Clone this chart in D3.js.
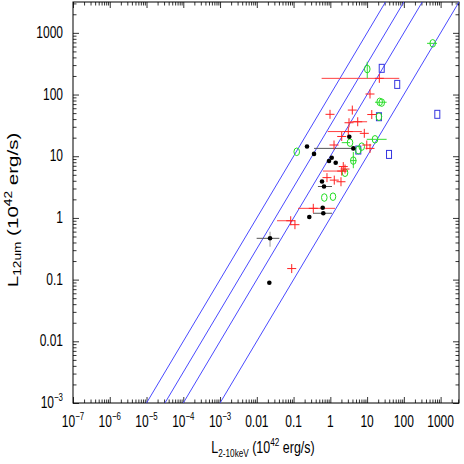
<!DOCTYPE html>
<html>
<head>
<meta charset="utf-8">
<script src="https://cdn.jsdelivr.net/npm/d3@7"></script>
<style>
  body { margin: 0; background: #fff; }
  text { font-family: "Liberation Sans", Arial, sans-serif; fill: #000; }
</style>
</head>
<body>
<div id="grafica"></div>
<script>
// Datos (unidades de 10^42 erg/s)
// Cruces rojas [L2-10keV, L12um]
var crosses = [
  [21.5, 183], [12, 102], [0.98, 47.8], [3.96, 56], [13.4, 47.4], [5.56, 36.2],
  [3.22, 34.9], [8.4, 23.5], [2.04, 20.9], [3.08, 25.1], [1.26, 15.2], [9.8, 15.2],
  [12, 13.4], [2.25, 6.8], [2.51, 6.2], [2.04, 5.75], [0.81, 4.5], [1.28, 4.1],
  [1.95, 3.86], [0.344, 1.43], [0.0836, 0.90], [0.109, 0.777], [0.089, 0.151]
];
// barras de error horizontales de las cruces [xmin, xmax, y]
var crossBars = [
  [0.58, 75, 183], [3.44, 10, 36.2], [0.85, 7.2, 25.1], [0.63, 3.03, 5.75],
  [0.132, 1.34, 1.43], [0.0355, 0.0966, 0.90]
];

// Puntos negros
var dots = [
  [3.28, 20.7], [0.232, 14.4], [0.36, 10.9], [4.22, 13.4], [1.09, 9.46], [0.92, 8.36],
  [1.40, 7.85], [0.594, 3.89], [0.673, 3.23], [0.62, 1.46], [0.644, 1.19],
  [0.268, 1.035], [0.0229, 0.467], [0.0219, 0.089]
];
var dotBarsX = [[0.36, 4.22, 13.4], [0.46, 1.11, 3.23], [0.338, 1.11, 1.19], [0.0099, 0.041, 0.467]];
var dotBarsY = [[0.0229, 0.341, 0.597]];

// Círculos verdes
var circles = [
  [610, 676], [10.1, 259], [22, 76], [25, 74], [21, 43.7], [16.4, 18.8], [3.43, 16.6],
  [7.14, 14.3], [0.122, 11.8], [4.22, 8.5], [2.51, 5.4], [0.685, 2.14], [1.18, 2.21],
  [5.77, 12.6]
];
var circleBarsX = [[427, 798, 676], [16.4, 34, 75], [9.8, 34, 18.8], [2.04, 3.43, 16.6], [3.5, 5.1, 8.5]];
var circleBarsY = [[10.1, 183, 340], [4.22, 6.4, 11.7]];

// Cuadrados azules
var squares = [[25, 266], [66, 146], [813, 47.8], [21, 43.7], [39.5, 10.7], [5.77, 12.6]];

// Rectas L12um = k * L2-10keV
var ratios = [100, 31.6, 10, 1];

// Ticks de los ejes (exponentes)
var xExps = [-7, -6, -5, -4, -3, -2, -1, 0, 1, 2, 3];
var yExps = [-3, -2, -1, 0, 1, 2, 3];

var margin = { top: 2, right: 5, bottom: 61, left: 73 },
  width = 464 - margin.left - margin.right,
  height = 464 - margin.top - margin.bottom;

var svg = d3.select("#grafica")
  .append("svg")
  .attr("width", 464)
  .attr("height", 464)
  .append("g")
  .attr("transform", "translate(" + margin.left + "," + margin.top + ")");

var x = d3.scaleLog().domain([1e-7, Math.pow(10, 3.5)]).range([0, width]);
var y = d3.scaleLog().domain([1e-3, Math.pow(10, 3.5)]).range([height, 0]);

// ticks menores 2..9 de cada década
function minors(exps, max) {
  var out = [];
  exps.forEach(function (e) {
    for (var m = 2; m <= 9; m++) {
      var v = m * Math.pow(10, e);
      if (v < max) out.push(v);
    }
  });
  return out;
}
var xMajor = xExps.map(function (e) { return Math.pow(10, e); });
var yMajor = yExps.map(function (e) { return Math.pow(10, e); });
var xMinor = minors(xExps, x.domain()[1]);
var yMinor = minors(yExps, y.domain()[1]);

// ejes con ticks hacia dentro en los cuatro lados
function addAxis(axis, values, size, transform) {
  var g = svg.append("g")
    .attr("transform", transform)
    .call(axis.tickValues(values).tickSizeInner(size).tickSizeOuter(0).tickFormat(""));
  g.select(".domain").remove();
  g.selectAll("line").attr("stroke", "#000").attr("stroke-width", 0.8);
}
addAxis(d3.axisBottom(x), xMajor, -6, "translate(0," + height + ")");
addAxis(d3.axisBottom(x), xMinor, -3.5, "translate(0," + height + ")");
addAxis(d3.axisTop(x), xMajor, -6, "translate(0,0)");
addAxis(d3.axisTop(x), xMinor, -3.5, "translate(0,0)");
addAxis(d3.axisLeft(y), yMajor, -6, "translate(0,0)");
addAxis(d3.axisLeft(y), yMinor, -3.5, "translate(0,0)");
addAxis(d3.axisRight(y), yMajor, -6, "translate(" + width + ",0)");
addAxis(d3.axisRight(y), yMinor, -3.5, "translate(" + width + ",0)");

// marco
svg.append("rect")
  .attr("width", width)
  .attr("height", height)
  .attr("fill", "none")
  .attr("stroke", "#000")
  .attr("stroke-width", 1);

// etiquetas de los ticks
function tickLabel(sel, e) {
  if (e <= -3) {
    sel.append("tspan").text("10");
    sel.append("tspan").attr("font-size", 10.5).attr("dy", -7).text("\u2212" + (-e));
  } else {
    sel.text(e < 0 ? Math.pow(10, e).toFixed(-e) : String(Math.pow(10, e)));
  }
}
xExps.forEach(function (e) {
  var t = svg.append("text")
    .attr("transform", "translate(" + x(Math.pow(10, e)) + "," + (height + 24) + ") scale(0.75,1)")
    .attr("text-anchor", "middle")
    .attr("font-size", 16);
  tickLabel(t, e);
});
yExps.forEach(function (e) {
  var t = svg.append("text")
    .attr("transform", "translate(-10," + (y(Math.pow(10, e)) + 5) + ") scale(0.75,1)")
    .attr("text-anchor", "end")
    .attr("font-size", 16);
  tickLabel(t, e);
});

// título del eje x
var xt = svg.append("text")
  .attr("transform", "translate(190," + (height + 50) + ") scale(0.78,1)")
  .attr("text-anchor", "middle")
  .attr("font-size", 16);
xt.append("tspan").text("L");
xt.append("tspan").attr("font-size", 10.5).attr("dy", 4).text("2-10keV");
xt.append("tspan").attr("dy", -4).text(" (10");
xt.append("tspan").attr("font-size", 10.5).attr("dy", -7).text("42");
xt.append("tspan").attr("dy", 7).text(" erg/s)");

// título del eje y
var yt = svg.append("text")
  .attr("transform", "translate(-55,208) rotate(-90) scale(1.37,1)")
  .attr("text-anchor", "middle")
  .attr("font-size", 15);
yt.append("tspan").text("L");
yt.append("tspan").attr("font-size", 10).attr("dy", 3).text("12um");
yt.append("tspan").attr("dy", -3).text(" (10");
yt.append("tspan").attr("font-size", 10).attr("dy", -6).text("42");
yt.append("tspan").attr("dy", 6).text(" erg/s)");

// área de recorte para las rectas
svg.append("clipPath").attr("id", "clip")
  .append("rect").attr("width", width).attr("height", height);

var line = d3.line()
  .x(function (d) { return x(d[0]); })
  .y(function (d) { return y(d[1]); });

svg.append("g")
  .attr("clip-path", "url(#clip)")
  .selectAll("path")
  .data(ratios)
  .enter()
  .append("path")
  .attr("d", function (k) {
    return line([[1e-9, 1e-9 * k], [1e5, 1e5 * k]]);
  })
  .attr("fill", "none")
  .attr("stroke", "#4a4aff")
  .attr("stroke-width", 1);

// barras de error
function hBars(data, color) {
  svg.append("g").selectAll("line")
    .data(data).enter().append("line")
    .attr("x1", function (d) { return x(d[0]); })
    .attr("x2", function (d) { return x(d[1]); })
    .attr("y1", function (d) { return y(d[2]); })
    .attr("y2", function (d) { return y(d[2]); })
    .attr("stroke", color)
    .attr("stroke-width", 1);
}
function vBars(data, color) {
  svg.append("g").selectAll("line")
    .data(data).enter().append("line")
    .attr("x1", function (d) { return x(d[0]); })
    .attr("x2", function (d) { return x(d[0]); })
    .attr("y1", function (d) { return y(d[1]); })
    .attr("y2", function (d) { return y(d[2]); })
    .attr("stroke", color)
    .attr("stroke-width", 1);
}
hBars(crossBars, "#ff4040");
hBars(dotBarsX, "#555");
vBars(dotBarsY, "#999");
hBars(circleBarsX, "#33dd33");
vBars(circleBarsY, "#33dd33");

// cuadrados azules
svg.append("g").selectAll("rect")
  .data(squares).enter().append("rect")
  .attr("x", function (d) { return x(d[0]) - 2.5; })
  .attr("y", function (d) { return y(d[1]) - 4; })
  .attr("width", 5)
  .attr("height", 8)
  .attr("fill", "none")
  .attr("stroke", "#3535e0")
  .attr("stroke-width", 1);

// círculos verdes
svg.append("g").selectAll("ellipse")
  .data(circles).enter().append("ellipse")
  .attr("cx", function (d) { return x(d[0]); })
  .attr("cy", function (d) { return y(d[1]); })
  .attr("rx", 2.8)
  .attr("ry", 3.8)
  .attr("fill", "none")
  .attr("stroke", "#22dd22")
  .attr("stroke-width", 1);

// cruces rojas
var cg = svg.append("g").selectAll("g")
  .data(crosses).enter().append("g")
  .attr("transform", function (d) { return "translate(" + x(d[0]) + "," + y(d[1]) + ")"; });
cg.append("line").attr("x1", -4.5).attr("x2", 4.5).attr("stroke", "#ff2020");
cg.append("line").attr("y1", -4.5).attr("y2", 4.5).attr("stroke", "#ff2020");

// puntos negros
svg.append("g").selectAll("circle")
  .data(dots).enter().append("circle")
  .attr("cx", function (d) { return x(d[0]); })
  .attr("cy", function (d) { return y(d[1]); })
  .attr("r", 2.3)
  .attr("fill", "#000");
</script>
</body>
</html>
